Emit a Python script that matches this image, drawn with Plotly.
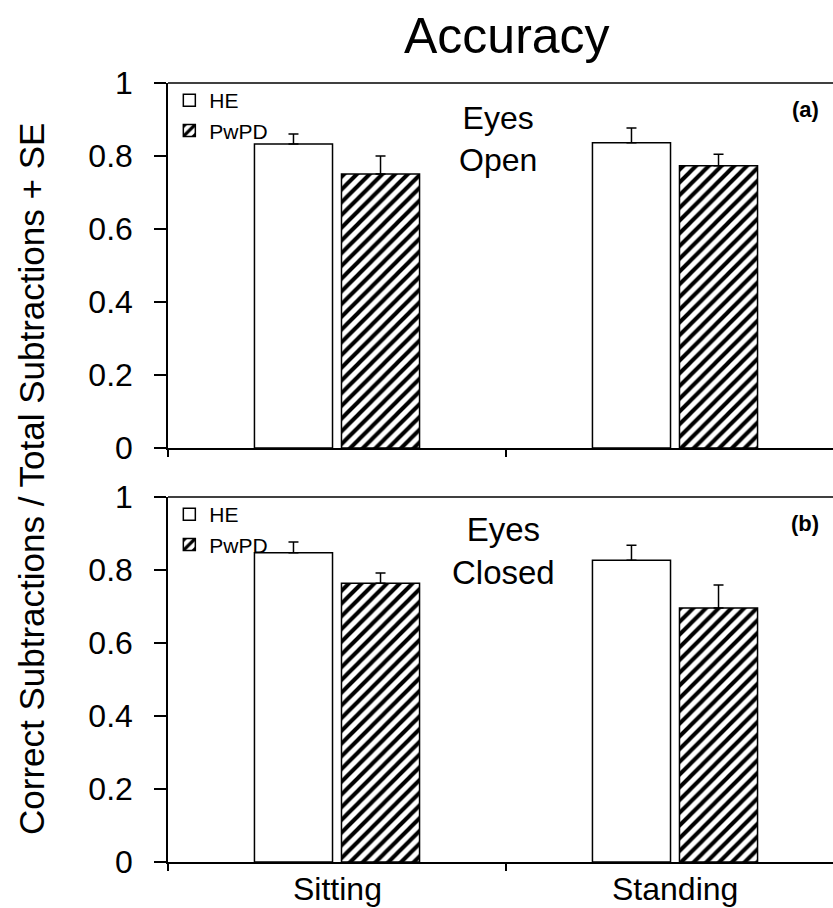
import plotly.graph_objects as go

categories = ["Sitting", "Standing"]
groups = ["HE", "PwPD"]

# Panel (a) Eyes Open
open_he = [0.833, 0.836]
open_he_se = [0.027, 0.041]
open_pd = [0.751, 0.773]
open_pd_se = [0.049, 0.032]

# Panel (b) Eyes Closed
closed_he = [0.847, 0.827]
closed_he_se = [0.030, 0.041]
closed_pd = [0.764, 0.696]
closed_pd_se = [0.028, 0.063]

yticks = [0, 0.2, 0.4, 0.6, 0.8, 1]
ytick_text = ["0", "0.2", "0.4", "0.6", "0.8", "1"]

FONT = "Liberation Sans, Arial, sans-serif"
W, H = 833, 908
L = 168
xpos = list(range(len(categories)))


def px_y(p):
    return 1 - p / H


fig = go.Figure()

panels = [
    (open_he, open_he_se, open_pd, open_pd_se, "x", "y", "legend"),
    (closed_he, closed_he_se, closed_pd, closed_pd_se, "x2", "y2", "legend2"),
]

for he, he_se, pd_, pd_se, xa, ya, lg in panels:
    fig.add_trace(go.Bar(
        x=xpos, y=he, name=groups[0], xaxis=xa, yaxis=ya, legend=lg,
        marker=dict(color="white", line=dict(color="black", width=1.5)),
        error_y=dict(type="data", array=he_se, arrayminus=[0] * len(he_se),
                     symmetric=False, color="black", thickness=1.5, width=5),
    ))
    fig.add_trace(go.Bar(
        x=xpos, y=pd_, name=groups[1], xaxis=xa, yaxis=ya, legend=lg,
        marker=dict(color="white", line=dict(color="black", width=1.5),
                    pattern=dict(shape="/", size=9, solidity=0.45,
                                 fgcolor="black", bgcolor="white", fillmode="replace")),
        error_y=dict(type="data", array=pd_se, arrayminus=[0] * len(pd_se),
                     symmetric=False, color="black", thickness=1.5, width=5),
    ))

plot_w = W - L
xrange_ = [-0.5, -0.5 + plot_w / 338.0]

xaxis_common = dict(
    range=xrange_, showline=True, linecolor="black", linewidth=1.5,
    tickmode="array", tickvals=[-0.5, 0.5, 1.5], ticktext=["", "", ""],
    ticks="outside", ticklen=7, tickwidth=1.5, tickcolor="black",
    showgrid=False, zeroline=False, automargin=False,
)
yaxis_common = dict(
    range=[0, 1], showline=True, linecolor="black", linewidth=1.5,
    tickmode="array", tickvals=yticks, ticktext=ytick_text,
    ticks="outside", ticklen=12, tickwidth=1.5, tickcolor="black",
    ticklabelstandoff=15,
    tickfont=dict(family=FONT, size=32, color="black"),
    showgrid=False, zeroline=False, automargin=False,
)

top_dom = [px_y(448), px_y(83)]
bot_dom = [px_y(862), px_y(497)]

legend_common = dict(xanchor="left", yanchor="top",
                     font=dict(family=FONT, size=21, color="black"),
                     bgcolor="rgba(0,0,0,0)", itemwidth=30, tracegroupgap=0,
                     borderwidth=0)

fig.update_layout(
    width=W, height=H,
    margin=dict(l=L, r=0, t=0, b=0, autoexpand=False),
    paper_bgcolor="white", plot_bgcolor="white",
    barmode="group", bargap=0.485, bargroupgap=0.103,
    font=dict(family=FONT, color="black"),
    xaxis=dict(domain=[0, 1], anchor="y", **xaxis_common),
    yaxis=dict(domain=top_dom, anchor="x", **yaxis_common),
    xaxis2=dict(domain=[0, 1], anchor="y2", **xaxis_common),
    yaxis2=dict(domain=bot_dom, anchor="x2", **yaxis_common),
    legend=dict(x=0.002, y=px_y(80), **legend_common),
    legend2=dict(x=0.002, y=px_y(494), **legend_common),
    showlegend=True,
)

# top frame lines
for yy in [83, 497]:
    fig.add_shape(type="line", xref="paper", yref="paper",
                  x0=0, x1=1, y0=px_y(yy), y1=px_y(yy),
                  line=dict(color="black", width=1.5))


def fx(p):
    return (p - L) / plot_w


def note(text, x, y, size, angle=0, xref="paper"):
    return dict(text=text, x=x, y=y, xref=xref, yref="paper",
                xanchor="center", yanchor="middle", textangle=angle,
                showarrow=False, font=dict(family=FONT, size=size, color="black"))


ann = [
    note("Accuracy", fx(507), px_y(36), 50),
    note("Correct Subtractions / Total Subtractions + SE", fx(31), px_y(479), 35, angle=-90),
    note("Eyes<br>Open", fx(498), px_y(139), 32),
    note("Eyes<br>Closed", fx(503), px_y(551), 33),
    note("<b>(a)</b>", fx(805), px_y(110), 22),
    note("<b>(b)</b>", fx(805), px_y(523), 22),
]
for i, c in enumerate(categories):
    ann.append(note(c, xpos[i], px_y(889), 32, xref="x2"))
fig.update_layout(annotations=ann)

fig.write_html("out.html", config={"displayModeBar": False},
               post_script="document.body.style.margin='0';")
